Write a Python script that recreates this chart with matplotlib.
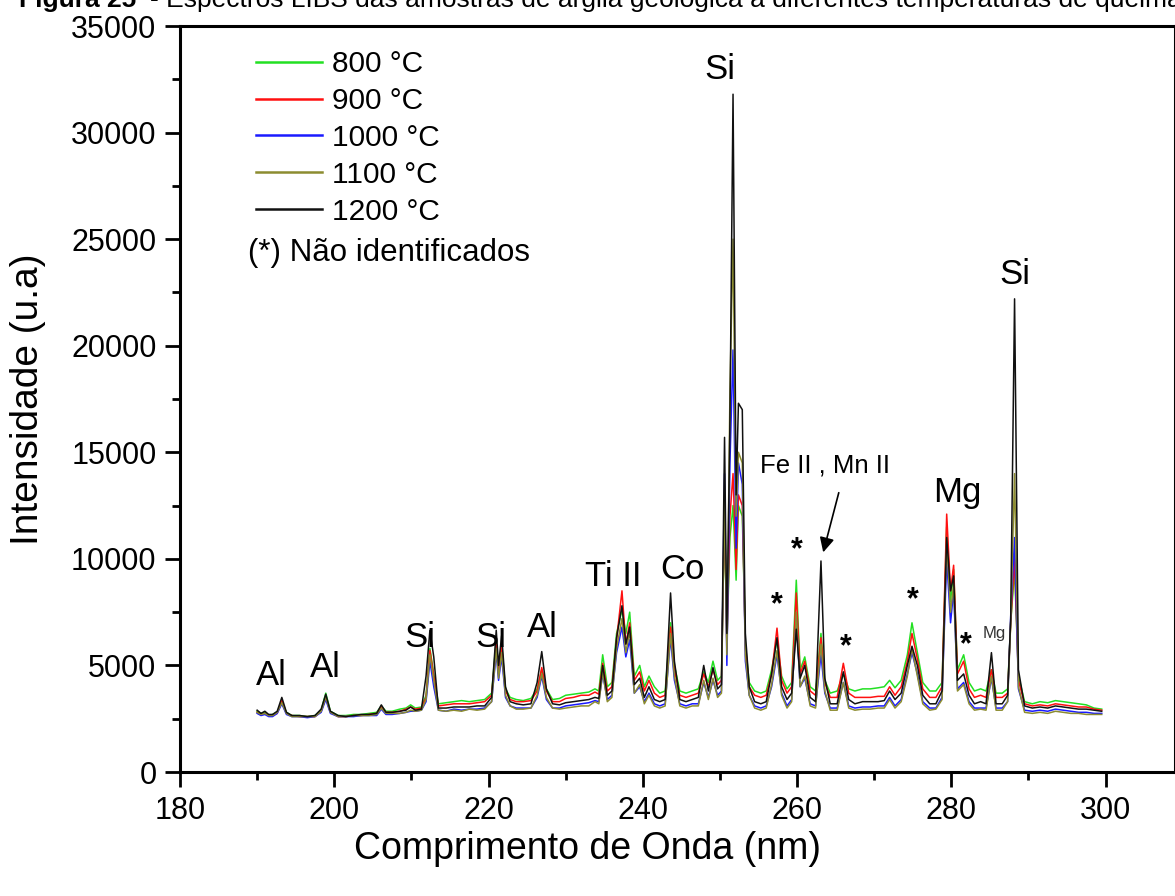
import matplotlib
matplotlib.use("Agg")
import matplotlib.pyplot as plt
from matplotlib.ticker import MultipleLocator

plt.rcParams['font.family'] = ['Liberation Sans', 'DejaVu Sans']

wavelength = [
    190.0, 190.5, 191.0, 191.5, 192.0, 192.6, 193.2, 193.8, 194.5, 195.5,
    196.5, 197.5, 198.3, 198.9, 199.5, 200.5, 201.5, 202.5, 203.5, 204.5,
    205.5, 206.1, 206.7, 207.5, 208.5, 209.3, 209.9, 210.5, 211.3, 211.9,
    212.4, 212.9, 213.5, 214.5, 215.5, 216.5, 217.5, 218.5, 219.5, 220.4,
    221.0, 221.3, 221.7, 222.2, 222.8, 223.6, 224.5, 225.5, 226.3, 226.9,
    227.5, 228.3, 229.2, 230.0, 231.0, 232.0, 233.0, 233.8, 234.3, 234.8,
    235.4, 236.0, 236.6, 237.3, 237.8, 238.3, 238.9, 239.6, 240.2, 240.8,
    241.5, 242.2, 242.9, 243.6, 244.1, 244.8, 245.6, 246.4, 247.2, 247.9,
    248.5, 249.1, 249.7, 250.2, 250.6, 250.9, 251.3, 251.7, 252.1, 252.4,
    252.9, 253.3, 253.8, 254.5, 255.3, 256.0, 256.7, 257.4, 258.0, 258.7,
    259.3, 259.9, 260.4, 261.0, 261.7, 262.4, 263.1, 263.6, 264.3, 265.2,
    266.0, 266.7, 267.5, 268.5, 269.5, 270.5, 271.3, 272.0, 272.7, 273.5,
    274.3, 274.9, 275.6, 276.3, 277.2, 278.0, 278.8, 279.4, 279.9, 280.3,
    280.8, 281.6, 282.3, 283.0, 283.8, 284.5, 285.2, 285.8, 286.6, 287.3,
    287.7, 288.2, 288.7, 289.5, 290.5, 291.5, 292.5, 293.5, 294.5, 295.5,
    296.5, 297.5, 298.5, 299.5,
]

int_800 = [
    2850, 2750, 2800, 2650, 2700, 2800, 3300, 2800, 2650, 2650,
    2600, 2650, 2900, 3700, 2850, 2650, 2650, 2700, 2700, 2750,
    2800, 3100, 2850, 2850, 2950, 3000, 3150, 3000, 3050, 3600,
    5800, 4600, 3200, 3250, 3300, 3350, 3300, 3350, 3400, 3700,
    6200, 4800, 6000, 3900, 3500, 3400, 3350, 3450, 3900, 4800,
    3900, 3400, 3450, 3600, 3650, 3700, 3750, 3900, 3800, 5500,
    4000, 4200, 6500, 7600, 6500, 7500, 4500, 5000, 4000, 4500,
    4000, 3700, 3800, 7000, 5000, 3800, 3700, 3800, 3900, 4700,
    4200, 5200, 4300, 4500, 12000, 6000, 11000, 12500, 9000, 12500,
    12000, 6000, 4200, 3800, 3700, 3800, 4800, 6200, 4500, 3900,
    4200, 9000, 4800, 5400, 4000, 3800, 6500, 4300, 3700, 3800,
    4600, 3900, 3800, 3900, 3900, 3950, 4000, 4300, 3950, 4300,
    5500, 7000, 5600, 4200, 3800, 3800, 4200, 11500, 8000, 9500,
    4800, 5500, 4200, 3800, 3900, 3800, 4800, 3700, 3700, 3900,
    7000, 9500, 4500, 3300, 3200, 3300, 3250, 3350, 3300, 3250,
    3200, 3150, 3000, 2950,
]

int_900 = [
    2800, 2700, 2750, 2650, 2650, 2750, 3350, 2750, 2650, 2600,
    2600, 2600, 2850, 3500, 2800, 2600, 2600, 2650, 2650, 2700,
    2750, 3050, 2800, 2800, 2850, 2950, 3050, 2950, 3000, 3500,
    5700, 4500, 3100, 3150, 3200, 3200, 3200, 3250, 3300, 3600,
    6000, 4600, 5900, 3800, 3400, 3300, 3300, 3350, 3800, 4900,
    3800, 3300, 3300, 3450, 3500, 3600, 3600, 3750, 3650, 5100,
    3800, 4000, 6200, 8500, 6000, 7000, 4300, 4700, 3800, 4300,
    3700, 3500, 3600, 6800, 4800, 3600, 3500, 3600, 3700, 4600,
    4000, 4800, 4100, 4300, 12500, 5800, 12000, 14000, 9500, 13000,
    12500, 5800, 4000, 3600, 3500, 3600, 4600, 6750, 4300, 3700,
    4000, 8400, 4600, 5200, 3800, 3600, 6300, 4200, 3500, 3500,
    5100, 3700, 3500, 3500, 3500, 3550, 3550, 4000, 3600, 4000,
    5200, 6500, 5300, 3900, 3500, 3500, 4000, 12100, 8500, 9700,
    4600, 5200, 3900, 3500, 3600, 3500, 4800, 3500, 3500, 3700,
    7000, 10000, 4300, 3200, 3100, 3150, 3100, 3200, 3150, 3100,
    3050, 3050, 2950, 2900,
]

int_1000 = [
    2750, 2650, 2700, 2600, 2600, 2750, 3200, 2700, 2600, 2600,
    2550, 2600, 2800, 3400, 2750, 2600, 2600, 2600, 2650, 2650,
    2650, 2950, 2700, 2700, 2750, 2800, 2850, 2850, 2900, 3300,
    5200, 4000, 2900, 2850, 2950, 2900, 2950, 2950, 3000, 3300,
    5600, 4300, 5400, 3500, 3100, 3000, 3000, 3000, 3500, 4500,
    3400, 3000, 3000, 3100, 3150, 3200, 3250, 3350, 3300, 4600,
    3400, 3600, 5600, 6800, 5400, 6200, 3700, 4000, 3300, 3700,
    3200, 3100, 3200, 6300, 4300, 3200, 3100, 3200, 3200, 4200,
    3500, 4300, 3600, 3800, 14000, 5000, 14500, 19800, 10500, 14500,
    13500, 5200, 3600, 3100, 3000, 3100, 4000, 5500, 3700, 3100,
    3400, 7200, 4000, 4400, 3200, 3100, 5500, 3700, 3000, 3000,
    4200, 3100, 3000, 3050, 3050, 3100, 3100, 3500, 3100, 3400,
    4600, 5600, 4600, 3300, 3000, 3000, 3500, 10000, 7000, 8500,
    3900, 4200, 3300, 3000, 3000, 3000, 4400, 3000, 3000, 3300,
    7300, 11000, 3900, 2900, 2850, 2900, 2850, 2950, 2900, 2850,
    2800, 2800, 2750, 2750,
]

int_1100 = [
    2800, 2700, 2750, 2650, 2650, 2800, 3250, 2750, 2600, 2600,
    2600, 2600, 2850, 3500, 2800, 2600, 2600, 2650, 2650, 2650,
    2700, 3000, 2750, 2750, 2750, 2800, 2900, 2850, 2900, 3400,
    5500, 4300, 2900, 2850, 2900, 2850, 2950, 2900, 2950, 3300,
    5800, 4400, 5600, 3600, 3100, 2950, 2950, 3000, 3600, 4600,
    3500, 3000, 2950, 3000, 3050, 3100, 3100, 3300, 3200, 4700,
    3300, 3500, 5800, 7200, 5600, 6600, 3700, 4100, 3200, 3600,
    3100, 3000, 3100, 6500, 4500, 3100, 3000, 3100, 3100, 4300,
    3400, 4400, 3500, 3700, 13000, 5500, 17900, 25000, 12000, 15000,
    14500, 5500, 3600, 3000, 2900, 3000, 4100, 5700, 3600, 3000,
    3300, 7500, 4000, 4500, 3100, 3000, 6000, 3800, 2900, 2900,
    4200, 3000, 2900, 2950, 2950, 3000, 3000, 3400, 3000, 3300,
    4500, 5800, 4500, 3200, 2900, 2950, 3400, 10800, 7500, 8800,
    3800, 4100, 3200, 2900, 2950, 2900, 4500, 2900, 2900, 3300,
    7000, 14000, 4000, 2800, 2750, 2800, 2750, 2850, 2800, 2750,
    2750, 2700, 2700, 2700,
]

int_1200 = [
    2900, 2750, 2850, 2700, 2700, 2850, 3500, 2800, 2650, 2650,
    2600, 2650, 2950, 3650, 2850, 2650, 2600, 2650, 2700, 2700,
    2750, 3150, 2800, 2800, 2850, 2900, 3050, 2900, 2950, 4500,
    6650, 5400, 3000, 3000, 3050, 3050, 3050, 3100, 3100, 3500,
    6650, 5000, 6400, 4000, 3300, 3200, 3150, 3200, 4200, 5650,
    3900, 3200, 3150, 3250, 3300, 3350, 3400, 3500, 3450, 5000,
    3600, 3800, 6300, 7800, 6000, 6800, 4100, 4400, 3500, 4000,
    3400, 3300, 3400, 8400, 5200, 3400, 3300, 3400, 3500, 5000,
    3800, 4900, 3900, 4100, 15700, 6500, 16500, 31800, 13000, 17300,
    17000, 6500, 4000, 3300, 3200, 3300, 4600, 6300, 4000, 3400,
    3700, 6700, 4400, 5000, 3500, 3300, 9900, 4400, 3200, 3200,
    4700, 3400, 3200, 3300, 3300, 3300, 3350, 3800, 3400, 3700,
    5000, 5900, 5000, 3600, 3200, 3200, 3800, 11000, 8500, 9200,
    4300, 4600, 3600, 3200, 3300, 3200, 5600, 3200, 3200, 3600,
    7200, 22200, 4800, 3100, 3000, 3050, 3000, 3100, 3050, 3000,
    2950, 2950, 2900, 2850,
]

series_labels = ['800 °C', '900 °C', '1000 °C', '1100 °C', '1200 °C']
series_colors = ['#22e022', '#ff1010', '#1a1aff', '#8c8c30', '#111111']

peak_labels = ['Al', 'Al', 'Si', 'Si', 'Al', 'Ti II', 'Co', 'Si', 'Mg', 'Si']
peak_label_x = [191.9, 198.8, 211.1, 220.3, 227.0, 236.2, 245.2, 250.0, 280.8, 288.2]
peak_label_y = [4550, 4880, 6290, 6330, 6760, 9150, 9480, 32940, 13090, 23320]

star_x = [257.4, 260.0, 266.3, 275.0, 281.9]
star_y = [7840, 10420, 5870, 8070, 5960]

fig = plt.figure(figsize=(11.75, 8.96), dpi=100)
ax = fig.add_axes([180 / 1175, 124 / 896, 1.0 - 180 / 1175, 746 / 896])

series = [int_800, int_900, int_1000, int_1100, int_1200]
handles = []
for vals, lab, col in zip(series, series_labels, series_colors):
    h, = ax.plot(wavelength, vals, color=col, lw=1.1, label=lab)
    handles.append(h)

ax.set_xlim(180, 309)
ax.set_ylim(0, 35000)
ax.xaxis.set_major_locator(MultipleLocator(20))
ax.xaxis.set_minor_locator(MultipleLocator(10))
ax.yaxis.set_major_locator(MultipleLocator(5000))
ax.yaxis.set_minor_locator(MultipleLocator(2500))
ax.tick_params(which='major', direction='out', length=11, width=2.0, labelsize=22, pad=6)
ax.tick_params(which='minor', direction='out', length=6, width=2.0)
ax.tick_params(top=False, right=False)
for sp in ax.spines.values():
    sp.set_linewidth(2.2)

ax.set_xlabel('Comprimento de Onda (nm)', fontsize=27)
ax.xaxis.set_label_coords((587 - 180) / 995, -(831 - 772) / 746)
ax.set_ylabel('Intensidade (u.a)', fontsize=28)
ax.yaxis.set_label_coords(-(180 - 46) / 995, 0.5)

leg = ax.legend(handles=handles, loc='upper left', bbox_to_anchor=(256 / 1175, 1 - 50 / 896),
                bbox_transform=fig.transFigure, frameon=False, fontsize=21.5,
                handlelength=2.2, handletextpad=0.33, labelspacing=0.3,
                borderpad=0, borderaxespad=0)
for ln in leg.get_lines():
    ln.set_linewidth(1.8)

ax.text(248 / 1175, 1 - 253 / 896, '(*) Não identificados', transform=fig.transFigure,
        fontsize=22.5, ha='left', va='center')

for lab, x, y in zip(peak_labels, peak_label_x, peak_label_y):
    ax.text(x, y, lab, fontsize=25, ha='center', va='center')

for x, y in zip(star_x, star_y):
    ax.text(x, y, '*', fontsize=22, ha='center', va='center', fontweight='bold')

ax.text(263.6, 14400, 'Fe II , Mn II', fontsize=18.5, ha='center', va='center')
ax.annotate('', xy=(263.3, 10180), xytext=(265.5, 13230),
            arrowprops=dict(arrowstyle='-|>', color='black', lw=1.2, mutation_scale=22))
ax.text(285.6, 6520, 'Mg', fontsize=12, ha='center', va='center', color='#333333')

fig.text(19 / 1175, 1 - 7 / 896, 'Figura 25', fontsize=19, fontweight='bold',
         ha='left', va='baseline')
fig.text(150 / 1175, 1 - 7 / 896,
         '- Espectros LIBS das amostras de argila geológica a diferentes temperaturas de queima',
         fontsize=19, ha='left', va='baseline')

fig.savefig('out.png', dpi=100)
